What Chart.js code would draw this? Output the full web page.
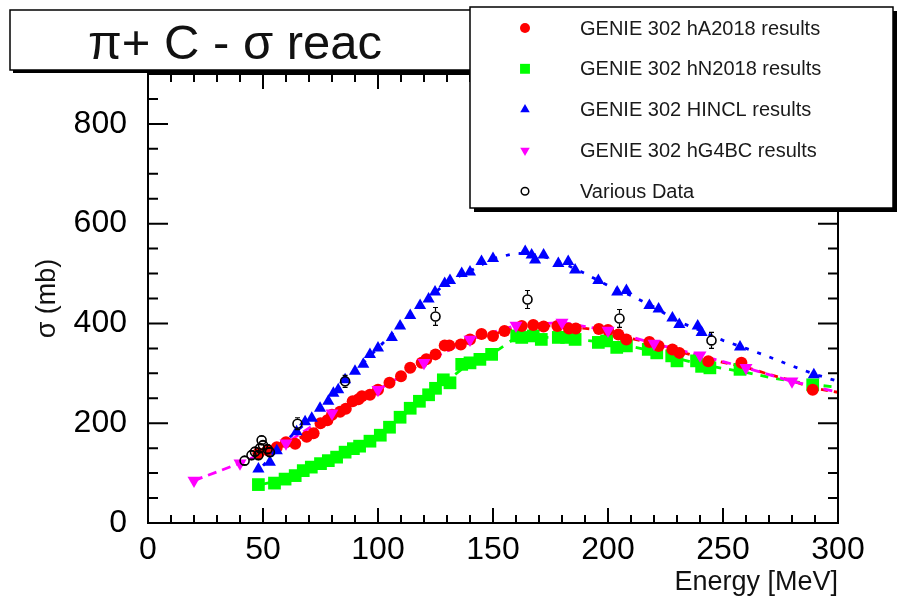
<!DOCTYPE html>
<html>
<head>
<meta charset="utf-8">
<script src="https://cdn.jsdelivr.net/npm/chart.js@4"></script>
<style>
html, body { margin: 0; padding: 0; background: #fff; }
</style>
</head>
<body>
<canvas id="grafica" width="898" height="605"></canvas>
<script>
// ── Datos ────────────────────────────────────────────────────────────────────
var xTicks = [0, 50, 100, 150, 200, 250, 300];
var yTicks = [0, 200, 400, 600, 800];

// GENIE 302 hA2018 (circulos rojos)
var hAEnergy = [48,52,56,60,64,69,72,75,78,80,83.5,86,89,91.5,93,96.5,100,105,110,114,119,121,125,129,131,136,140,145,150,155,162.5,167.5,172,178,183,186,196,200,204.5,208,218,222,228,231,243.6,258,289];
var hASigma  = [140,146,152,162,159,173,180,200,206,217,223,229,244,248,254,257,267,281,294,311,321,328,338,356,356,358,368,379,375,385,395,397,394,395,390,390,389,387,378,368,363,355,348,341,324,321,267];

// GENIE 302 hN2018 (cuadrados verdes)
var hNEnergy = [48,55,59.6,64,67.5,71,75,78.4,82,85.7,89.3,92,96.5,101,105,109.6,114,118,122,125,128.4,131.3,136.4,140,144.3,149.4,160.3,162.5,167.5,171,178.4,182,185.7,195.8,199.4,203.8,208,217.5,221.2,227.7,230,238.5,240.7,244.3,257.4,289];
var hNSigma  = [77,80,88,95,105,112,119,125,132,142,149,154,164,176,192,212,230,244,257,270,287,281,318,321,328,338,375,372,375,368,372,372,368,362,365,352,355,348,341,335,325,325,314,311,308,277];

// GENIE 302 HINCL (triangulos azules)
var hinclEnergy = [48,53,56,64.6,68.3,71.2,74.8,78.4,80.6,82.7,85.7,90,93.6,96.5,100,106,109.6,114,118.3,122,124.8,129,131.3,136.4,140,145,150,164,166.8,168.3,172,178.4,182.7,185.7,195.8,204,208,218,222,228,231,239,240.7,257.4,289.5];
var hinclSigma  = [108,122,145,183,203,210,230,244,260,267,287,304,318,338,351,372,395,416,436,449,463,480,486,500,503,524,530,544,537,527,537,520,524,507,486,463,466,436,429,411,398,395,382,353,297];

// GENIE 302 hG4BC (triangulos invertidos magenta)
var g4Energy = [20,40,60,80,100,120,140,160,180,200,220,240,260,280];
var g4Sigma  = [85,120,160,220,267,321,368,396,402,386,360,336,311,284];

// Various Data (circulos abiertos con error)
var dataEnergy = [42,45,46.5,48,48.7,49.4,50,52,53,65,85.7,125,165,205,245];
var dataSigma  = [125,136,143,136,150,166,156,148,142,199,284,414,448,410,366];
var dataError  = [8,8,8,8,8,8,8,8,8,12,12,18,18,18,16];

// Curvas punteadas
var curveEnergy = [50,60,70,80,90,100,110,120,130,140,150,160,170,180,190,200,210,220,230,240,250,260,270,280,290,300];
var hACurve     = [143,160,178,213,245,267,294,323,352,368,378,392,396,394,390,386,370,360,345,332,322,312,298,285,270,262];
var hNCurve     = [78,88,110,128,150,175,212,250,285,321,340,372,372,372,366,362,354,344,330,318,310,302,292,284,277,272];
var hinclCurve  = [115,165,206,255,304,351,396,442,483,505,530,541,537,522,500,476,456,433,405,386,366,350,333,315,298,284];
var g4CurveEnergy = [20,40,60,80,100,120,140,160,180,200,220,240,260,280,300];
var g4CurveSigma  = [85,120,160,220,267,321,368,396,402,386,360,336,311,284,262];

var fuente = '"Liberation Sans", Arial, Helvetica, sans-serif';

function puntos(xs, ys) {
    return xs.map(function (x, i) { return { x: x, y: ys[i] }; });
}

function curva(xs, ys, color, dash) {
    return {
        data: puntos(xs, ys),
        showLine: true,
        borderColor: color,
        borderWidth: 2.8,
        borderDash: dash,
        pointRadius: 0,
        fill: false,
        enLeyenda: false
    };
}

// ── Dibujo de marcadores (leyenda) ───────────────────────────────────────────
function marcador(ctx, estilo, x, y, r, color, abierto, rot) {
    ctx.save();
    ctx.beginPath();
    if (estilo === 'circle') {
        ctx.arc(x, y, r, 0, Math.PI * 2);
    } else if (estilo === 'rect') {
        var s = r * Math.SQRT1_2;
        ctx.rect(x - s, y - s, 2 * s, 2 * s);
    } else {
        var d = rot ? -1 : 1;
        ctx.moveTo(x, y - d * r);
        ctx.lineTo(x + r * 0.866, y + d * r * 0.5);
        ctx.lineTo(x - r * 0.866, y + d * r * 0.5);
        ctx.closePath();
    }
    if (abierto) {
        ctx.lineWidth = 1.5;
        ctx.strokeStyle = color;
        ctx.stroke();
    } else {
        ctx.fillStyle = color;
        ctx.fill();
    }
    ctx.restore();
}

// ── Plugin: marco, ticks internos, barras de error, titulo y leyenda ─────────
var marcoPlugin = {
    id: 'marcoRoot',
    afterDatasetsDraw: function (chart) {
        var ctx = chart.ctx, a = chart.chartArea;
        var sx = chart.scales.x, sy = chart.scales.y;

        // barras de error
        ctx.save();
        ctx.strokeStyle = '#000';
        ctx.lineWidth = 1.2;
        dataEnergy.forEach(function (e, i) {
            var px = sx.getPixelForValue(e);
            var p0 = sy.getPixelForValue(dataSigma[i]);
            var pt = sy.getPixelForValue(dataSigma[i] + dataError[i]);
            var pb = sy.getPixelForValue(dataSigma[i] - dataError[i]);
            ctx.beginPath();
            ctx.moveTo(px, p0 - 5); ctx.lineTo(px, pt);
            ctx.moveTo(px, p0 + 5); ctx.lineTo(px, pb);
            ctx.moveTo(px - 2.5, pt); ctx.lineTo(px + 2.5, pt);
            ctx.moveTo(px - 2.5, pb); ctx.lineTo(px + 2.5, pb);
            ctx.stroke();
        });
        ctx.restore();

        // marco
        ctx.save();
        ctx.strokeStyle = '#000';
        ctx.lineWidth = 2;
        ctx.strokeRect(a.left, a.top, a.right - a.left, a.bottom - a.top);

        ctx.beginPath();
        for (var v = 0; v <= 300; v += 10) {
            var px = sx.getPixelForValue(v);
            var lx = (v % 50 === 0) ? 15 : 8;
            ctx.moveTo(px, a.bottom); ctx.lineTo(px, a.bottom - lx);
            ctx.moveTo(px, a.top);    ctx.lineTo(px, a.top + lx);
        }
        for (var w = 0; w < 900; w += 50) {
            var py = sy.getPixelForValue(w);
            var ly = (w % 200 === 0) ? 20 : 10;
            ctx.moveTo(a.left, py);  ctx.lineTo(a.left + ly, py);
            ctx.moveTo(a.right, py); ctx.lineTo(a.right - ly, py);
        }
        ctx.stroke();
        ctx.restore();
    },
    afterDraw: function (chart) {
        var ctx = chart.ctx;
        ctx.save();

        // caja del titulo
        ctx.fillStyle = '#000';
        ctx.fillRect(13, 13, 470, 60);
        ctx.fillStyle = '#fff';
        ctx.fillRect(10, 10, 470, 60);
        ctx.strokeStyle = '#000';
        ctx.lineWidth = 1.5;
        ctx.strokeRect(10, 10, 470, 60);
        ctx.fillStyle = '#111';
        ctx.font = '49px ' + fuente;
        ctx.textAlign = 'center';
        ctx.textBaseline = 'middle';
        ctx.fillText('\u03c0+ C - \u03c3 reac', 235, 45);

        // caja de la leyenda
        var lx = 470, ly = 7, lw = 423, lh = 201;
        ctx.fillStyle = '#000';
        ctx.fillRect(lx + 4, ly + 4, lw, lh);
        ctx.fillStyle = '#fff';
        ctx.fillRect(lx, ly, lw, lh);
        ctx.strokeRect(lx, ly, lw, lh);

        var entradas = chart.data.datasets.filter(function (d) { return d.enLeyenda; });
        entradas.sort(function (p, q) { return p.posLeyenda - q.posLeyenda; });
        ctx.font = '20px ' + fuente;
        ctx.textAlign = 'left';
        entradas.forEach(function (d, i) {
            var y = 28 + i * 40.8;
            marcador(ctx, d.pointStyle, 525, y, d.radioLeyenda, d.colorLeyenda, d.abierto, d.pointRotation);
            ctx.fillStyle = '#1a1a1a';
            ctx.fillText(d.label, 580, y + 1);
        });
        ctx.restore();
    }
};

new Chart(document.getElementById('grafica'), {
    type: 'scatter',
    data: {
        datasets: [
            {
                label: 'Various Data', data: puntos(dataEnergy, dataSigma),
                pointStyle: 'circle', pointRadius: 4.5, borderWidth: 1.6,
                borderColor: '#000', backgroundColor: 'rgba(0,0,0,0)',
                enLeyenda: true, posLeyenda: 4, radioLeyenda: 3.8, colorLeyenda: '#000', abierto: true
            },
            {
                label: 'GENIE 302 hG4BC results', data: puntos(g4Energy, g4Sigma),
                pointStyle: 'triangle', pointRotation: 180, pointRadius: 7.5, borderWidth: 0,
                backgroundColor: '#ff00ff', borderColor: '#ff00ff',
                enLeyenda: true, posLeyenda: 3, radioLeyenda: 5.5, colorLeyenda: '#ff00ff'
            },
            {
                label: 'GENIE 302 HINCL results', data: puntos(hinclEnergy, hinclSigma),
                pointStyle: 'triangle', pointRadius: 7, borderWidth: 0,
                backgroundColor: '#0000ff', borderColor: '#0000ff',
                enLeyenda: true, posLeyenda: 2, radioLeyenda: 5.5, colorLeyenda: '#0000ff'
            },
            {
                label: 'GENIE 302 hA2018 results', data: puntos(hAEnergy, hASigma),
                pointStyle: 'circle', pointRadius: 6, borderWidth: 0,
                backgroundColor: '#ff0000', borderColor: '#ff0000',
                enLeyenda: true, posLeyenda: 0, radioLeyenda: 5, colorLeyenda: '#ff0000'
            },
            {
                label: 'GENIE 302 hN2018 results', data: puntos(hNEnergy, hNSigma),
                pointStyle: 'rect', pointRadius: 9, borderWidth: 0,
                backgroundColor: '#00ff00', borderColor: '#00ff00',
                enLeyenda: true, posLeyenda: 1, radioLeyenda: 7, colorLeyenda: '#00ff00'
            },
            curva(g4CurveEnergy, g4CurveSigma, '#ff00ff', [9, 6]),
            curva(curveEnergy, hinclCurve, '#0000ff', [4, 9]),
            curva(curveEnergy, hACurve, '#ff0000', [7, 6]),
            curva(curveEnergy, hNCurve, '#00ff00', [8, 8])
        ]
    },
    options: {
        responsive: false,
        animation: false,
        layout: { padding: { top: 74, right: 60, left: 0, bottom: 0 } },
        plugins: { legend: { display: false }, tooltip: { enabled: false } },
        scales: {
            x: {
                type: 'linear', min: 0, max: 300,
                afterFit: function (s) { s.height = 82; },
                afterBuildTicks: function (s) { s.ticks = xTicks.map(function (v) { return { value: v }; }); },
                grid: { display: false }, border: { display: false },
                ticks: { color: '#000', padding: 0, maxRotation: 0, font: { family: fuente, size: 32 } },
                title: { display: true, text: 'Energy [MeV]', align: 'end', color: '#111',
                         padding: { bottom: 6 }, font: { family: fuente, size: 27 } }
            },
            y: {
                type: 'linear', min: 0, max: 900,
                afterFit: function (s) { s.width = 148; },
                afterBuildTicks: function (s) { s.ticks = yTicks.map(function (v) { return { value: v }; }); },
                grid: { display: false }, border: { display: false },
                ticks: { color: '#000', padding: 13, font: { family: fuente, size: 32 } },
                title: { display: true, text: '\u03c3 (mb)', color: '#111',
                         padding: { top: 31 }, font: { family: fuente, size: 27 } }
            }
        }
    },
    plugins: [marcoPlugin]
});
</script>
</body>
</html>
